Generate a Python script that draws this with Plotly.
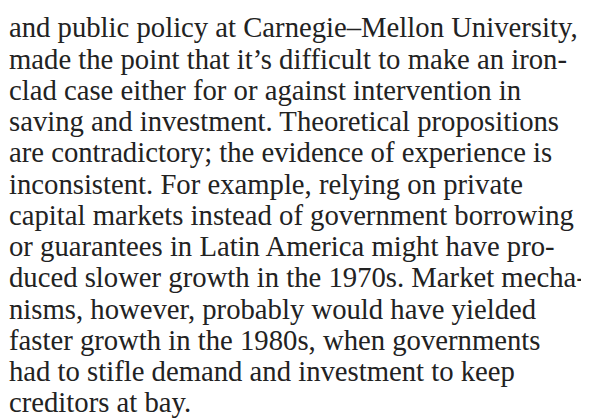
import plotly.graph_objects as go

lines = [
    "and public policy at Carnegie–Mellon University,",
    "made the point that it’s difficult to make an iron-",
    "clad case either for or against intervention in",
    "saving and investment. Theoretical propositions",
    "are contradictory; the evidence of experience is",
    "inconsistent. For example, relying on private",
    "capital markets instead of government borrowing",
    "or guarantees in Latin America might have pro-",
    "duced slower growth in the 1970s. Market mecha-",
    "nisms, however, probably would have yielded",
    "faster growth in the 1980s, when governments",
    "had to stifle demand and investment to keep",
    "creditors at bay.",
]
line_index = list(range(len(lines)))

W, H = 589, 419
page_margin = 8          # browser default body margin
left = 9 - page_margin - 2
first_baseline = 30
spacing = 31.25
fsize = 28.7

fig = go.Figure()
for i, t in zip(line_index, lines):
    yc = first_baseline + i * spacing - 0.367 * fsize
    fig.add_annotation(
        x=left / W, y=1 - yc / H,
        xref="paper", yref="paper", text=t, showarrow=False,
        xanchor="left", yanchor="middle",
        font=dict(family="Liberation Serif", size=fsize, color="#222222"),
    )

fig.update_xaxes(visible=False)
fig.update_yaxes(visible=False)
fig.update_layout(width=W, height=H, margin=dict(l=0, r=0, t=0, b=0),
                  paper_bgcolor="white", plot_bgcolor="white")
fig.write_html("out.html")
